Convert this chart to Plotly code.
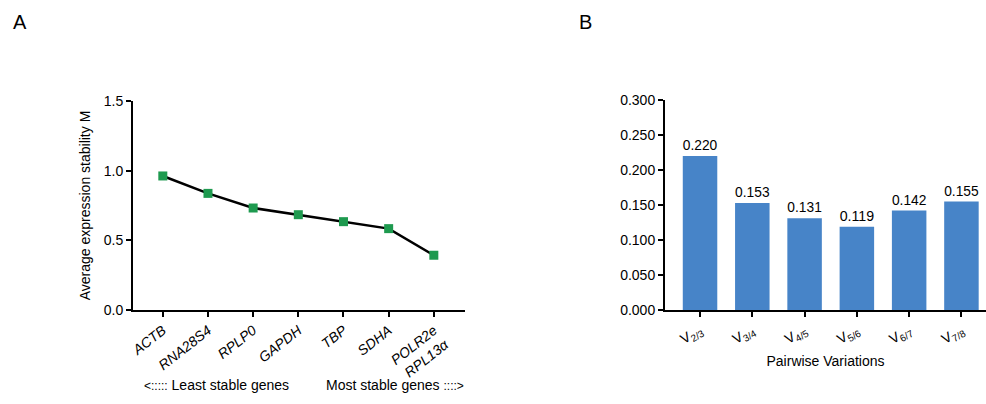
import plotly.graph_objects as go

genes = ["ACTB", "RNA28S4", "RPLP0", "GAPDH", "TBP", "SDHA", "POLR2e<br>RPL13α"]
gene_m = [0.962, 0.837, 0.732, 0.684, 0.634, 0.584, 0.393]

pairs = ["V<sub>2/3</sub>", "V<sub>3/4</sub>", "V<sub>4/5</sub>", "V<sub>5/6</sub>", "V<sub>6/7</sub>", "V<sub>7/8</sub>"]
pair_v = [0.220, 0.153, 0.131, 0.119, 0.142, 0.155]

FONT = "Liberation Sans, Arial, sans-serif"
W, H = 986, 404

fig = go.Figure()
fig.add_trace(go.Scatter(
    x=list(range(len(genes))), y=gene_m, mode="lines+markers",
    line=dict(color="black", width=2.5),
    marker=dict(symbol="square", size=9, color="#1e9a4f"),
    xaxis="x", yaxis="y", showlegend=False))

fig.add_trace(go.Bar(
    x=list(range(len(pairs))), y=pair_v, width=0.66,
    marker=dict(color="#4784c8", line=dict(width=0)),
    text=[f"{v:.3f}" for v in pair_v], textposition="outside",
    textfont=dict(size=14.5, color="black", family=FONT),
    cliponaxis=False,
    xaxis="x2", yaxis="y2", showlegend=False))

ybot = (H - 310) / H
ytop = (H - 101) / H
ytop2 = (H - 100) / H

def ax(**kw):
    d = dict(showline=True, linecolor="black", linewidth=2, ticks="outside",
             tickcolor="black", tickwidth=2, ticklen=5, showgrid=False,
             zeroline=False, automargin=False,
             tickfont=dict(size=14, color="black", family=FONT))
    d.update(kw)
    return d

gene_text = ["<i>" + g.replace("<br>", "</i><br><i>") + "</i>" for g in genes]

fig.update_layout(
    width=W, height=H, margin=dict(l=0, r=0, t=0, b=0, pad=0), autosize=False,
    paper_bgcolor="white", plot_bgcolor="white",
    font=dict(family=FONT, color="black"),
    xaxis=ax(domain=[133 / W, 465 / W], range=[-0.66, 6.69],
             tickmode="array", tickvals=list(range(len(genes))), ticktext=gene_text,
             tickangle=-38, anchor="y"),
    yaxis=ax(domain=[ybot, ytop], range=[0, 1.5], tickvals=[0, 0.5, 1.0, 1.5],
             tickformat=".1f", anchor="x",
             title=dict(text="Average expression stability M", font=dict(size=14), standoff=10)),
    xaxis2=ax(domain=[665 / W, 986 / W], range=[-0.67, 5.47],
              tickmode="array", tickvals=list(range(len(pairs))), ticktext=pairs,
              tickangle=-30, anchor="y2",
              title=dict(text="Pairwise Variations", font=dict(size=14), standoff=9)),
    yaxis2=ax(domain=[ybot, ytop2], range=[0, 0.3],
              tickvals=[0, 0.05, 0.1, 0.15, 0.2, 0.25, 0.3],
              tickformat=".3f", anchor="x2"),
)

fig.add_annotation(text="A", x=20 / W, y=(H - 22) / H, xref="paper", yref="paper",
                   showarrow=False, font=dict(size=20, family=FONT), xanchor="center", yanchor="middle")
fig.add_annotation(text="B", x=585 / W, y=(H - 22) / H, xref="paper", yref="paper",
                   showarrow=False, font=dict(size=20, family=FONT), xanchor="center", yanchor="middle")
fig.add_annotation(text="<span style='font-size:12px'>&lt;:::::</span> Least stable genes",
                   x=142 / W, y=(H - 385) / H,
                   xref="paper", yref="paper", showarrow=False,
                   font=dict(size=14, family=FONT), xanchor="left", yanchor="middle")
fig.add_annotation(text="Most stable genes <span style='font-size:12px'>::::&gt;</span>",
                   x=466 / W, y=(H - 385) / H,
                   xref="paper", yref="paper", showarrow=False,
                   font=dict(size=14, family=FONT), xanchor="right", yanchor="middle")

fig.write_html("out.html")
